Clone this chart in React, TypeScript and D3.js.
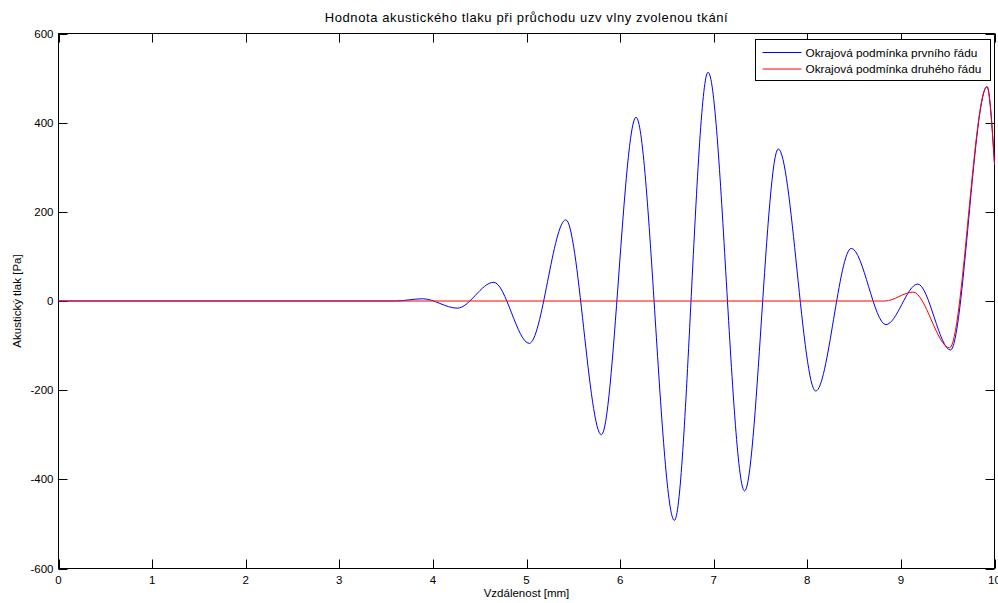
import React, { useEffect, useRef } from 'react';
import * as d3 from 'd3';

// extrema (x in mm, pressure in Pa)
const firstOrderX: number[] = [0, 3.6, 3.89, 4.26, 4.65, 5.03, 5.42, 5.8, 6.17, 6.58, 6.94, 7.33, 7.69, 8.09, 8.47, 8.84, 9.18, 9.53, 9.92, 10];
const firstOrderY: number[] = [0, 0, 5, -16, 42, -95, 182, -300, 412, -492, 513, -426, 341, -202, 118, -53, 38, -110, 481, 308];
const secondOrderX: number[] = [0, 8.83, 9.13, 9.52, 9.92, 10];
const secondOrderY: number[] = [0, 0, 20, -105, 481, 306];

const xTicks: number[] = [0, 1, 2, 3, 4, 5, 6, 7, 8, 9, 10];
const yTicks: number[] = [-600, -400, -200, 0, 200, 400, 600];
const legendLabels: string[] = ['Okrajová podmínka prvního řádu', 'Okrajová podmínka druhého řádu'];
const seriesColors: string[] = ['#0000ff', '#ff0000'];

const App: React.FC = () => {
    const ref = useRef<SVGSVGElement | null>(null);

    useEffect(() => {
        const el = ref.current;
        if (!el) return;
        const svg = d3.select(el);
        svg.selectAll('*').remove();

        const left = 58.5, right = 994.5, top = 33.5, bottom = 568.5;
        const font = 'Arial, "Liberation Sans", sans-serif';

        const x = d3.scaleLinear().domain([0, 10]).range([left, right]);
        const y = d3.scaleLinear().domain([-600, 600]).range([bottom, top]);

        // box
        svg.append('rect')
            .attr('x', left).attr('y', top)
            .attr('width', right - left).attr('height', bottom - top)
            .attr('fill', 'white').attr('stroke', 'black').attr('stroke-width', 1);

        const tickLen = 9;
        const ticks = svg.append('g').attr('stroke', 'black').attr('stroke-width', 1);
        xTicks.forEach((t) => {
            const px = Math.round(x(t)) + 0.5;
            ticks.append('line').attr('x1', px).attr('x2', px).attr('y1', bottom).attr('y2', bottom - tickLen);
            ticks.append('line').attr('x1', px).attr('x2', px).attr('y1', top).attr('y2', top + tickLen);
        });
        yTicks.forEach((t) => {
            const py = Math.round(y(t)) + 0.5;
            ticks.append('line').attr('x1', left).attr('x2', left + tickLen).attr('y1', py).attr('y2', py);
            ticks.append('line').attr('x1', right).attr('x2', right - tickLen).attr('y1', py).attr('y2', py);
        });

        svg.append('g').selectAll('text').data(xTicks).enter().append('text')
            .attr('x', (d) => x(d)).attr('y', bottom + 15)
            .attr('text-anchor', 'middle')
            .style('font-family', font).style('font-size', '11.5px')
            .text((d) => d);

        svg.append('g').selectAll('text').data(yTicks).enter().append('text')
            .attr('x', left - 5).attr('y', (d) => y(d) + 4)
            .attr('text-anchor', 'end')
            .style('font-family', font).style('font-size', '11.5px')
            .text((d) => d);

        // series
        const line = d3.line<[number, number]>()
            .x((d) => x(d[0]))
            .y((d) => y(d[1]))
            .curve(d3.curveMonotoneX);

        const plot = svg.append('g');
        const series: [number[], number[]][] = [[firstOrderX, firstOrderY], [secondOrderX, secondOrderY]];
        series.forEach(([xs, ys], i) => {
            plot.append('path')
                .datum(xs.map((v, j) => [v, ys[j]] as [number, number]))
                .attr('d', line)
                .attr('fill', 'none')
                .attr('stroke', seriesColors[i])
                .attr('stroke-width', 1);
        });

        // titles
        svg.append('text')
            .attr('x', (left + right) / 2).attr('y', 22)
            .attr('text-anchor', 'middle')
            .style('font-family', font).style('font-size', '13px')
            .style('letter-spacing', '0.6px')
            .text('Hodnota akustického tlaku při průchodu uzv vlny zvolenou tkání');

        svg.append('text')
            .attr('x', (left + right) / 2).attr('y', 597)
            .attr('text-anchor', 'middle')
            .style('font-family', font).style('font-size', '11.5px')
            .text('Vzdálenost [mm]');

        svg.append('text')
            .attr('transform', `translate(21, ${(top + bottom) / 2}) rotate(-90)`)
            .attr('text-anchor', 'middle')
            .style('font-family', font).style('font-size', '11.5px')
            .text('Akustický tlak [Pa]');

        // legend
        const lg = svg.append('g').attr('transform', 'translate(755.5, 39.5)');
        lg.append('rect').attr('width', 235).attr('height', 41)
            .attr('fill', 'white').attr('stroke', 'black');
        legendLabels.forEach((lab, i) => {
            const cy = 13 + i * 16.5;
            lg.append('line').attr('x1', 7).attr('x2', 46).attr('y1', cy).attr('y2', cy)
                .attr('stroke', seriesColors[i]);
            lg.append('text').attr('x', 50).attr('y', cy + 4)
                .style('font-family', font).style('font-size', '11.8px')
                .text(lab);
        });
    }, []);

    return (
        <svg ref={ref} width={998} height={603}
            style={{ position: 'absolute', left: 0, top: 0, background: 'white' }} />
    );
};

export default App;
